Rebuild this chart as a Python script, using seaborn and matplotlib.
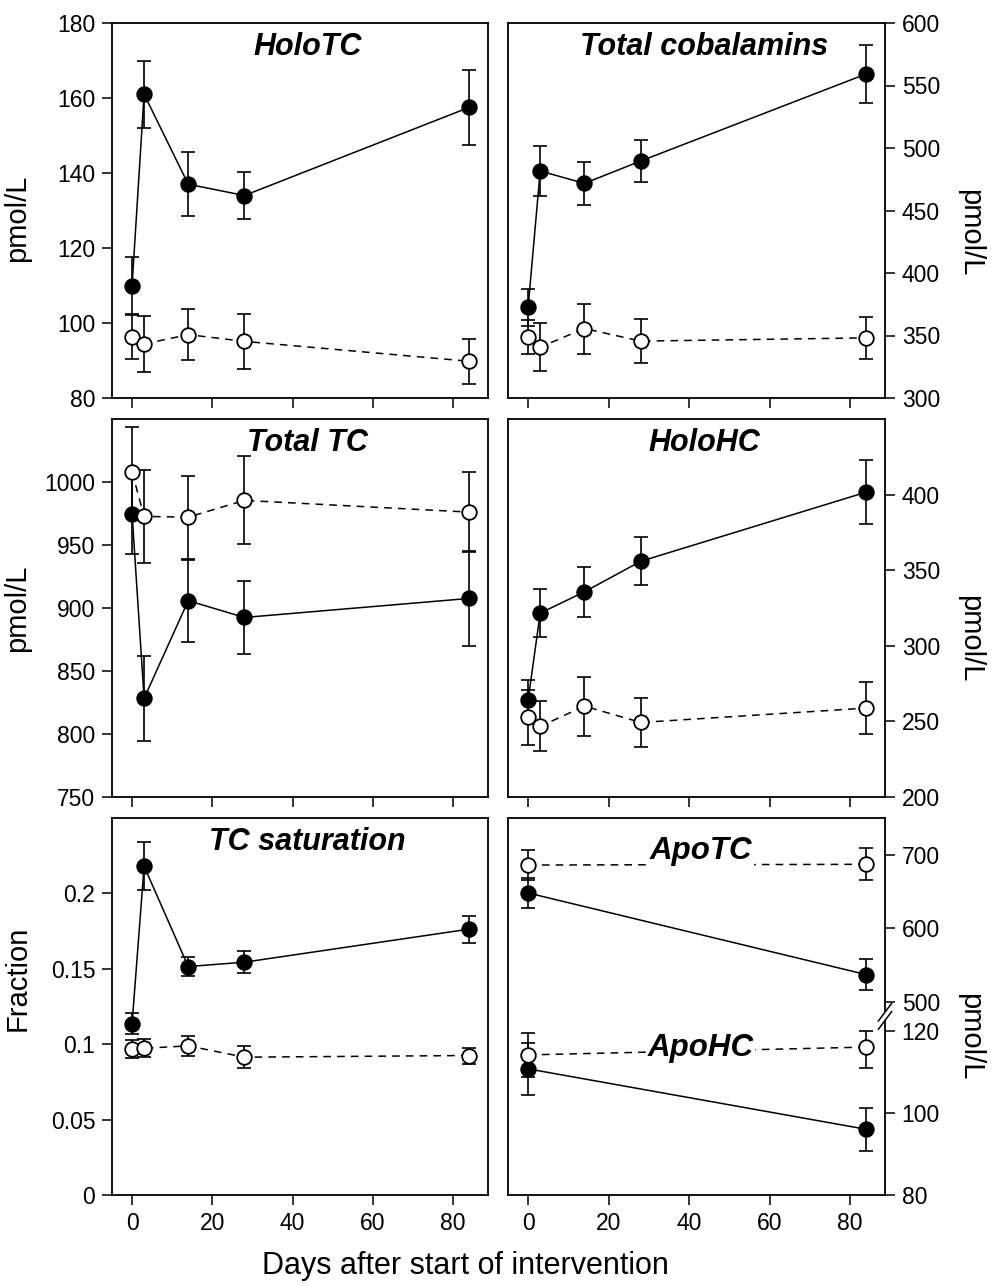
import matplotlib
matplotlib.use("Agg")

import matplotlib.pyplot as plt
import numpy as np
import seaborn as sns
from matplotlib.patches import Rectangle
from matplotlib.ticker import FuncFormatter

# ── Data ────────────────────────────────────────────────────────────
days = [0, 3, 14, 28, 84]
apo_days = [0, 84]

holotc_filled = [110, 161, 137, 134, 157.5]
holotc_filled_err = [7.5, 9, 8.5, 6.2, 10]
holotc_open = [96.3, 94.4, 96.9, 95.1, 89.8]
holotc_open_err = [5.8, 7.5, 6.8, 7.4, 6]

totcbl_filled = [372.6, 481.6, 471.7, 489.6, 559.2]
totcbl_filled_err = [15, 20, 17.5, 17, 23]
totcbl_open = [348.9, 340.7, 355.6, 345.5, 348.1]
totcbl_open_err = [13.5, 19, 20, 17.5, 17]

totaltc_filled = [974.8, 828.3, 905.8, 892.5, 907.6]
totaltc_filled_err = [32, 34, 32.5, 29, 38]
totaltc_open = [1008, 972.7, 972.1, 985.4, 976.1]
totaltc_open_err = [36, 37, 33, 35, 32]

holohc_filled = [264.1, 321.6, 335.7, 355.9, 401.6]
holohc_filled_err = [13, 16, 16.5, 16, 21]
holohc_open = [252.6, 246.7, 260.1, 249.3, 258.8]
holohc_open_err = [18, 16.5, 19.5, 16, 17]

tcsat_filled = [0.1135, 0.218, 0.1515, 0.1544, 0.1763]
tcsat_filled_err = [0.007, 0.016, 0.0065, 0.0072, 0.009]
tcsat_open = [0.0969, 0.0973, 0.0989, 0.0914, 0.0925]
tcsat_open_err = [0.006, 0.006, 0.0065, 0.0072, 0.0053]

apotc_filled = [648, 537]
apotc_filled_err = [20, 21]
apotc_open = [686, 687]
apotc_open_err = [20, 22]
apohc_filled = [110.7, 96.0]
apohc_filled_err = [6.4, 5.2]
apohc_open = [114.1, 116.0]
apohc_open_err = [5.3, 5]

x_ticks = [0, 20, 40, 60, 80]

sns.set_theme(style="ticks")
plt.rcParams["font.family"] = ["Liberation Sans", "DejaVu Sans"]
plt.rcParams.update({
    "text.color": "black",
    "axes.labelcolor": "black",
    "axes.edgecolor": "black",
    "axes.linewidth": 1.3,
    "xtick.color": "black",
    "ytick.color": "black",
    "xtick.major.size": 7,
    "ytick.major.size": 7,
    "xtick.major.width": 1.1,
    "ytick.major.width": 1.1,
    "xtick.labelsize": 16.5,
    "ytick.labelsize": 16.5,
    "xtick.major.pad": 5,
    "ytick.major.pad": 5,
})

W, H = 994, 1286
fig = plt.figure(figsize=(W / 100, H / 100), dpi=100)


def px_axes(x0, top, x1, bottom):
    return fig.add_axes([x0 / W, (H - bottom) / H, (x1 - x0) / W, (bottom - top) / H])


def draw_series(ax, x, y, err, filled):
    ax.errorbar(x, y, yerr=err, fmt="none", ecolor="black", elinewidth=1.2,
                capsize=5, capthick=1.2, zorder=2, clip_on=False)
    sns.lineplot(
        x=x, y=y, ax=ax, color="black", lw=1.1,
        linestyle="-" if filled else (0, (5, 4)),
        marker="o", markersize=10.5,
        markerfacecolor="black" if filled else "white",
        markeredgecolor="black", markeredgewidth=1.3,
        zorder=3, clip_on=False,
    )


def style_axes(ax, side, bottom_row):
    ax.set_xlim(-5, 88.7)
    ax.set_xticks(x_ticks)
    ax.tick_params(axis="x", labelbottom=bottom_row)
    if side == "right":
        ax.yaxis.tick_right()
        ax.yaxis.set_label_position("right")
    ax.yaxis.set_major_formatter(FuncFormatter(lambda v, _: f"{v:g}"))
    ax.set_xlabel("")
    ax.set_ylabel("")
    for s in ax.spines.values():
        s.set_visible(True)


def set_label(ax, text, side, ypos, size=21):
    if side == "left":
        ax.set_ylabel(text, fontsize=size)
        ax.yaxis.set_label_coords(-0.215, ypos)
    else:
        ax.set_ylabel(text, fontsize=size, rotation=270, va="center")
        ax.yaxis.set_label_coords(1.225, ypos)


def panel_title(ax, text, y=0.937):
    ax.text(0.52, y, text, transform=ax.transAxes, ha="center", va="center",
            fontsize=22, fontweight="bold", fontstyle="italic", zorder=6)


LX0, LX1 = 112, 488
RX0, RX1 = 508, 885
ROWS = [(23, 398), (419, 797), (818, 1195)]

# HoloTC
ax = px_axes(LX0, ROWS[0][0], LX1, ROWS[0][1])
draw_series(ax, days, holotc_filled, holotc_filled_err, True)
draw_series(ax, days, holotc_open, holotc_open_err, False)
ax.set_ylim(80, 180)
ax.set_yticks(np.arange(80, 181, 20))
style_axes(ax, "left", False)
set_label(ax, "pmol/L", "left", 0.48)
panel_title(ax, "HoloTC")

# Total cobalamins
ax = px_axes(RX0, ROWS[0][0], RX1, ROWS[0][1])
draw_series(ax, days, totcbl_filled, totcbl_filled_err, True)
draw_series(ax, days, totcbl_open, totcbl_open_err, False)
ax.set_ylim(300, 600)
ax.set_yticks(np.arange(300, 601, 50))
style_axes(ax, "right", False)
set_label(ax, "pmol/L", "right", 0.44)
panel_title(ax, "Total cobalamins")

# Total TC
ax = px_axes(LX0, ROWS[1][0], LX1, ROWS[1][1])
draw_series(ax, days, totaltc_filled, totaltc_filled_err, True)
draw_series(ax, days, totaltc_open, totaltc_open_err, False)
ax.set_ylim(750, 1050)
ax.set_yticks(np.arange(750, 1001, 50))
style_axes(ax, "left", False)
set_label(ax, "pmol/L", "left", 0.5)
panel_title(ax, "Total TC")

# HoloHC
ax = px_axes(RX0, ROWS[1][0], RX1, ROWS[1][1])
draw_series(ax, days, holohc_filled, holohc_filled_err, True)
draw_series(ax, days, holohc_open, holohc_open_err, False)
ax.set_ylim(200, 450)
ax.set_yticks(np.arange(200, 401, 50))
style_axes(ax, "right", False)
set_label(ax, "pmol/L", "right", 0.42)
panel_title(ax, "HoloHC")

# TC saturation
ax = px_axes(LX0, ROWS[2][0], LX1, ROWS[2][1])
draw_series(ax, days, tcsat_filled, tcsat_filled_err, True)
draw_series(ax, days, tcsat_open, tcsat_open_err, False)
ax.set_ylim(0, 0.25)
ax.set_yticks([0, 0.05, 0.1, 0.15, 0.2])
style_axes(ax, "left", True)
set_label(ax, "Fraction", "left", 0.575)
panel_title(ax, "TC saturation")

# ApoTC / ApoHC on a broken axis (piecewise linear scale)
brk_v = [-1e4, 80, 120, 500, 750, 1e5]
brk_p = [(-1e4 - 80) * 4.125, 0, 165, 194, 194 + 250 * 0.738, 194 + (1e5 - 500) * 0.738]


def fwd(v):
    return np.interp(v, brk_v, brk_p)


def inv(p):
    return np.interp(p, brk_p, brk_v)


ax = px_axes(RX0, ROWS[2][0], RX1, ROWS[2][1])
ax.set_yscale("function", functions=(fwd, inv))
draw_series(ax, apo_days, apotc_filled, apotc_filled_err, True)
draw_series(ax, apo_days, apotc_open, apotc_open_err, False)
draw_series(ax, apo_days, apohc_filled, apohc_filled_err, True)
draw_series(ax, apo_days, apohc_open, apohc_open_err, False)
ax.set_ylim(80, 750)
ax.set_yticks([80, 100, 120, 500, 600, 700])
ax.minorticks_off()
style_axes(ax, "right", True)
set_label(ax, "pmol/L", "right", 0.42)
for txt, yy in [("ApoTC", 0.912), ("ApoHC", 0.39)]:
    ax.text(0.512, yy, txt, transform=ax.transAxes, ha="center", va="center",
            fontsize=22.5, fontweight="bold", fontstyle="italic", zorder=6,
            bbox=dict(facecolor="white", edgecolor="none", pad=1))

# break marks on the right spine
yc = 0.474
ax.add_patch(Rectangle((0.99, yc - 0.011), 0.02, 0.022, transform=ax.transAxes,
                       facecolor="white", edgecolor="none", clip_on=False, zorder=5))
for off in (-0.011, 0.011):
    ax.plot([0.982, 1.018], [yc + off - 0.024, yc + off + 0.024], transform=ax.transAxes,
            color="black", lw=1.1, clip_on=False, zorder=6)

fig.text(0.468, (H - 1266) / H, "Days after start of intervention", ha="center",
         va="center", fontsize=22)

fig.savefig("out.png", dpi=100)
